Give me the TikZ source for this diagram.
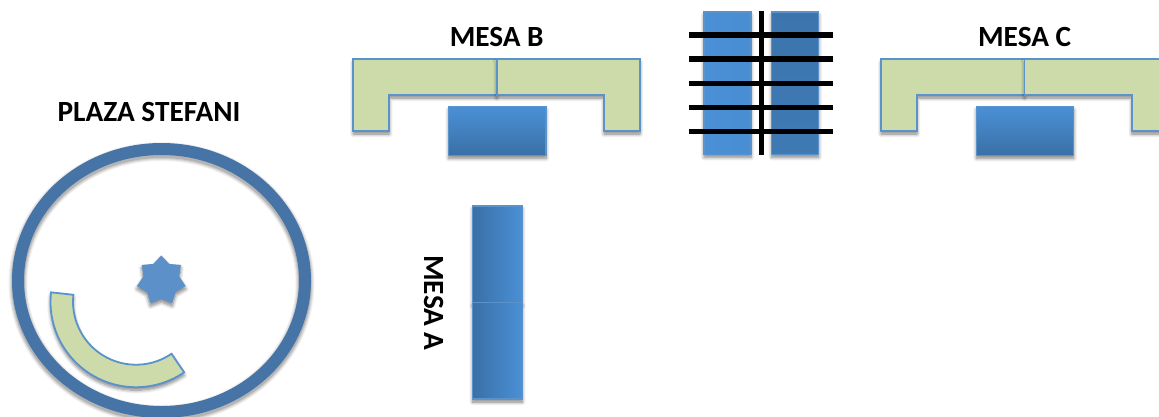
\documentclass[tikz,border=0pt]{standalone}
\usepackage{fontspec}
\setmainfont{Carlito}
\usetikzlibrary{calc,shapes.geometric,shadows.blur}
\definecolor{ringblue}{HTML}{4674A6}
\definecolor{edgeblue}{HTML}{5A92CC}
\definecolor{leaf}{HTML}{CDDBAA}
\definecolor{boxlight}{HTML}{4A90D6}
\definecolor{boxdark}{HTML}{3A70A6}
\definecolor{starblue}{HTML}{5B90C8}
\tikzset{
  softshadow/.style={blur shadow={shadow xshift=0pt,shadow yshift=-3pt,shadow blur radius=3.5pt,shadow blur steps=8,shadow opacity=50}},
  benchpart/.style={draw=edgeblue,line width=1.8pt,fill=leaf,line join=miter,softshadow},
  tablebox/.style={draw=edgeblue,line width=1.2pt,softshadow},
  tablevert/.style={tablebox,top color=boxlight,bottom color=boxdark},
  tablehoriz/.style={tablebox,left color=boxdark,right color=boxlight},
  titletext/.style={font=\fontsize{29.3}{32}\selectfont\bfseries,text=black,inner sep=0pt},
  barline/.style={draw=black,line width=5.5pt},
}
\newcommand{\mesabench}[1]{%
  \begin{scope}[xshift=#1pt]
    \path[benchpart] (353.3,59.3) -- (496.7,59.3) -- (496.7,95) -- (389.3,95) -- (389.3,131) -- (353.3,131) -- cycle;
    \path[benchpart] (496.7,59.3) -- (640,59.3) -- (640,131) -- (604,131) -- (604,95) -- (496.7,95) -- cycle;
    \path[tablevert] (448.7,106.7) rectangle (546,155.3);
  \end{scope}}
\begin{document}
\begin{tikzpicture}[x=1pt,y=-1pt]
\useasboundingbox (0,0) rectangle (1159,416);
\clip (0,0) rectangle (1159,416);
% plaza ring
\foreach \w/\o in {19/.05,17/.07,15/.09,13/.12}{
  \draw[black,opacity=\o,line width=\w pt] (161.5,283) ellipse [x radius=143.5,y radius=131.5];
}
\coordinate (arcc) at (136,301.7);
\path[benchpart] (arcc)+(173.7:85.5pt) arc[start angle=173.7,end angle=304.3,radius=85.5pt]
  -- ($(arcc)+(304.3:63pt)$) arc[start angle=304.3,end angle=173.7,radius=63pt] -- cycle;
\draw[ringblue,line width=12pt] (161.5,280.5) ellipse [x radius=143.5,y radius=131.5];
\node[star,star points=7,star point ratio=1.36,minimum size=50pt,inner sep=0pt,fill=starblue,softshadow] (fountain) at (161.3,280.5) {};
\node[titletext] (plaza) at (149,112) {PLAZA STEFANI};
% mesa B, C
\node[titletext] (mesab) at (496.7,37) {MESA B};
\mesabench{0}
\node[titletext] (mesac) at (1024.6,37) {MESA C};
\mesabench{527.8}
% centre stack
\path[tablebox,left color=boxlight,right color=boxlight!92!boxdark] (704,12) rectangle (751,154.3);
\path[tablebox,top color=boxdark!85!boxlight,bottom color=boxdark!70!boxlight] (771.7,12) rectangle (818.7,154.3);
\foreach \y in {35,59,83.3,107.3,131.3}{
  \draw[barline] (689.3,\y) -- (833.3,\y);
}
\draw[barline] (761.3,11) -- (761.3,155);
% mesa A
\path[tablehoriz] (472.7,206) rectangle (522.3,302.7);
\path[tablehoriz] (472.7,302.7) rectangle (522.3,399);
\node[titletext,rotate=-90] (mesaa) at (434,303) {MESA A};
\end{tikzpicture}
\end{document}
